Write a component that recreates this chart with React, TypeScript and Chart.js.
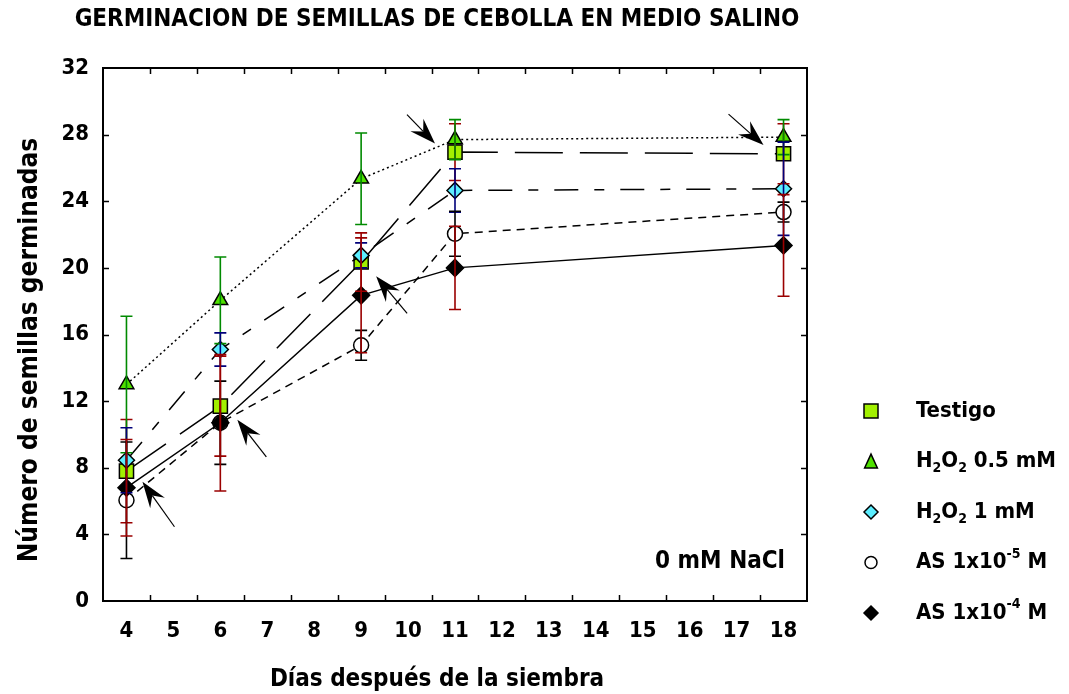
import React, { useEffect, useRef } from 'react';
import { Chart, registerables } from 'chart.js';

Chart.register(...registerables);

// ---------- data ----------
const xLabels = ['4', '5', '6', '7', '8', '9', '10', '11', '12', '13', '14', '15', '16', '17', '18'];
const days = ['4', '6', '9', '11', '18'];

const testigo = [7.8, 11.7, 20.35, 26.95, 26.85];
const testigoErr = [3.1, 3.0, 1.75, 1.7, 1.8];
const h2o2Half = [13.0, 18.05, 25.35, 27.7, 27.85];
const h2o2HalfErr = [4.1, 2.6, 2.75, 1.2, 1.05];
const h2o2One = [8.45, 15.1, 20.75, 24.65, 24.75];
const h2o2OneErr = [1.95, 1.0, 0.75, 1.3, 2.8];
const as5 = [6.05, 10.7, 15.35, 22.05, 23.35];
const as5Err = [3.5, 2.5, 0.9, 1.35, 0.6];
const as4 = [6.8, 10.7, 18.35, 20.0, 21.35];
const as4Err = [2.9, 4.1, 3.45, 2.5, 3.05];

const seriesLabels = ['Testigo', 'H₂O₂ 0.5 mM', 'H₂O₂ 1 mM', 'AS 1x10⁻⁵ M', 'AS 1x10⁻⁴ M'];
const legendRich = [
  [{ t: 'Testigo' }],
  [{ t: 'H' }, { t: '2', s: 'sub' }, { t: 'O' }, { t: '2', s: 'sub' }, { t: ' 0.5 mM' }],
  [{ t: 'H' }, { t: '2', s: 'sub' }, { t: 'O' }, { t: '2', s: 'sub' }, { t: ' 1 mM' }],
  [{ t: 'AS 1x10' }, { t: '-5', s: 'sup' }, { t: ' M' }],
  [{ t: 'AS 1x10' }, { t: '-4', s: 'sup' }, { t: ' M' }],
];

const titleText = 'GERMINACION DE SEMILLAS DE CEBOLLA EN MEDIO SALINO';
const xTitleText = 'Días después de la siembra';
const yTitleText = 'Número de semillas germinadas';
const noteText = '0 mM NaCl';

// arrows: anchored on a data point (series index, point index); tip / tail offsets in px
const arrows = [
  { series: 4, point: 0, tip: [16, -6], tail: [48, 39] },
  { series: 4, point: 1, tip: [17, -3], tail: [46, 34] },
  { series: 4, point: 2, tip: [15, -19], tail: [46, 18] },
  { series: 1, point: 3, tip: [-20, 4], tail: [-48, -25] },
  { series: 1, point: 4, tip: [-20, 8], tail: [-55, -23] },
];

const FONT = "'Liberation Sans Narrow', 'Arial Narrow', 'DejaVu Sans Condensed', sans-serif";

const styles = [
  { shape: 'rect', fill: '#A2F000', dash: [48, 17], radius: 10, err: '#9A0000', order: 3, lr: 7 },
  { shape: 'triangle', fill: '#4FE000', dash: [2, 3], radius: 8.5, err: '#008A00', order: 4, lr: 7.5 },
  { shape: 'rectRot', fill: '#5CEEFF', dash: [24, 16, 10, 16], radius: 8, err: '#00007A', order: 0, lr: 7 },
  { shape: 'circle', fill: '#FFFFFF', dash: [8, 6], radius: 7.5, err: '#000000', order: 2, lr: 6 },
  { shape: 'rectRot', fill: '#000000', dash: [], radius: 8.5, err: '#9A0000', order: 1, lr: 7 },
];
const values = [testigo, h2o2Half, h2o2One, as5, as4];
const errors = [testigoErr, h2o2HalfErr, h2o2OneErr, as5Err, as4Err];

function drawMarker(ctx: CanvasRenderingContext2D, shape: string, x: number, y: number, r: number, fill: string) {
  ctx.save();
  ctx.fillStyle = fill;
  ctx.strokeStyle = '#000';
  ctx.lineWidth = 1.5;
  ctx.beginPath();
  if (shape === 'rect') {
    ctx.rect(x - r, y - r, 2 * r, 2 * r);
  } else if (shape === 'triangle') {
    const h = r * 1.7;
    ctx.moveTo(x, y - h / 2 - 1);
    ctx.lineTo(x + r * 0.85, y + h / 2);
    ctx.lineTo(x - r * 0.85, y + h / 2);
    ctx.closePath();
  } else if (shape === 'rectRot') {
    ctx.moveTo(x, y - r);
    ctx.lineTo(x + r, y);
    ctx.lineTo(x, y + r);
    ctx.lineTo(x - r, y);
    ctx.closePath();
  } else {
    ctx.arc(x, y, r, 0, Math.PI * 2);
  }
  ctx.fill();
  ctx.stroke();
  ctx.restore();
}

function drawArrow(ctx: CanvasRenderingContext2D, tipX: number, tipY: number, tailX: number, tailY: number) {
  const dx = tipX - tailX;
  const dy = tipY - tailY;
  const len = Math.hypot(dx, dy);
  const ux = dx / len;
  const uy = dy / len;
  const nx = -uy;
  const ny = ux;
  const L = 26, W = 9, N = 17;
  const bx = tipX - ux * L, by = tipY - uy * L;
  const kx = tipX - ux * N, ky = tipY - uy * N;
  ctx.save();
  ctx.strokeStyle = '#000';
  ctx.fillStyle = '#000';
  ctx.lineWidth = 1.2;
  ctx.beginPath();
  ctx.moveTo(tailX, tailY);
  ctx.lineTo(kx, ky);
  ctx.stroke();
  ctx.beginPath();
  ctx.moveTo(tipX, tipY);
  ctx.lineTo(bx + nx * W, by + ny * W);
  ctx.lineTo(kx, ky);
  ctx.lineTo(bx - nx * W, by - ny * W);
  ctx.closePath();
  ctx.fill();
  ctx.restore();
}

function drawRich(ctx: CanvasRenderingContext2D, parts: any[], x: number, y: number, size: number) {
  let cx = x;
  for (const p of parts) {
    if (p.s) {
      ctx.font = `bold ${Math.round(size * 0.62)}px ${FONT}`;
      const off = p.s === 'sub' ? size * 0.32 : -size * 0.38;
      ctx.fillText(p.t, cx, y + off);
      cx += ctx.measureText(p.t).width;
    } else {
      ctx.font = `bold ${size}px ${FONT}`;
      ctx.fillText(p.t, cx, y);
      cx += ctx.measureText(p.t).width;
    }
  }
}

const decorPlugin = {
  id: 'decor',
  afterDatasetsDraw(chart: any) {
    const { ctx, scales } = chart;
    const y = scales.y;
    // error bars
    ctx.save();
    ctx.lineWidth = 1.6;
    for (let di = 0; di < values.length; di++) {
      const meta = chart.getDatasetMeta(di);
      ctx.strokeStyle = styles[di].err;
      values[di].forEach((v, i) => {
        const px = meta.data[i].x;
        const yt = y.getPixelForValue(v + errors[di][i]);
        const yb = y.getPixelForValue(v - errors[di][i]);
        ctx.beginPath();
        ctx.moveTo(px, yt);
        ctx.lineTo(px, yb);
        ctx.moveTo(px - 6, yt);
        ctx.lineTo(px + 6, yt);
        ctx.moveTo(px - 6, yb);
        ctx.lineTo(px + 6, yb);
        ctx.stroke();
      });
    }
    ctx.restore();
    // arrows
    for (const a of arrows) {
      const pt = chart.getDatasetMeta(a.series).data[a.point];
      drawArrow(ctx, pt.x + a.tip[0], pt.y + a.tip[1], pt.x + a.tail[0], pt.y + a.tail[1]);
    }
  },
  afterDraw(chart: any) {
    const { ctx, chartArea: ca, scales } = chart;
    const x = scales.x;
    const y = scales.y;
    ctx.save();
    // frame
    ctx.strokeStyle = '#000';
    ctx.lineWidth = 2;
    ctx.strokeRect(ca.left, ca.top, ca.right - ca.left, ca.bottom - ca.top);
    // inward ticks
    ctx.lineWidth = 1.5;
    ctx.beginPath();
    for (let i = 0; i < xLabels.length - 1; i++) {
      const px = Math.round((x.getPixelForValue(i) + x.getPixelForValue(i + 1)) / 2) + 0.5;
      ctx.moveTo(px, ca.bottom);
      ctx.lineTo(px, ca.bottom - 6);
      ctx.moveTo(px, ca.top);
      ctx.lineTo(px, ca.top + 6);
    }
    y.ticks.forEach((t: any) => {
      if (t.value <= y.min || t.value >= y.max) return;
      const py = Math.round(y.getPixelForValue(t.value)) + 0.5;
      ctx.moveTo(ca.left, py);
      ctx.lineTo(ca.left + 6, py);
      ctx.moveTo(ca.right, py);
      ctx.lineTo(ca.right - 6, py);
    });
    ctx.stroke();

    ctx.fillStyle = '#000';
    // axis titles
    ctx.font = `bold 24px ${FONT}`;
    ctx.textAlign = 'center';
    ctx.textBaseline = 'middle';
    ctx.fillText(xTitleText, 437, 680);
    ctx.save();
    ctx.font = `bold 26px ${FONT}`;
    ctx.translate(30, 350);
    ctx.rotate(-Math.PI / 2);
    ctx.fillText(yTitleText, 0, 0);
    ctx.restore();

    // note
    ctx.font = `bold 24px ${FONT}`;
    ctx.textAlign = 'right';
    ctx.fillText(noteText, ca.right - 22, ca.bottom - 39);

    // legend
    ctx.textAlign = 'left';
    for (let i = 0; i < legendRich.length; i++) {
      const ry = ca.bottom - 190 + i * 50.5;
      drawMarker(ctx, styles[i].shape, ca.right + 64, ry, styles[i].lr, styles[i].fill);
      drawRich(ctx, legendRich[i], ca.right + 109, ry, 22);
    }
    ctx.restore();
  },
};

export default function App() {
  const canvasRef = useRef<HTMLCanvasElement | null>(null);

  useEffect(() => {
    const canvas = canvasRef.current;
    if (!canvas) return;
    const datasets = values.map((vals, di) => ({
      label: seriesLabels[di],
      data: days.map((d, i) => ({ x: d, y: vals[i] })),
      borderColor: '#000',
      borderWidth: 1.5,
      borderDash: styles[di].dash,
      pointStyle: styles[di].shape,
      pointRadius: styles[di].radius,
      pointBackgroundColor: styles[di].fill,
      pointBorderColor: '#000',
      pointBorderWidth: 1.5,
      fill: false,
      tension: 0,
      order: styles[di].order,
      clip: false,
    }));

    const chart = new Chart(canvas, {
      type: 'line',
      data: { labels: xLabels, datasets },
      plugins: [decorPlugin],
      options: {
        responsive: false,
        animation: false,
        devicePixelRatio: 1,
        layout: { padding: { left: 0, right: 195, top: 0, bottom: 0 } },
        plugins: {
          legend: { display: false },
          tooltip: { enabled: false },
          title: {
            display: true,
            text: titleText,
            color: '#000',
            font: { family: FONT, size: 24, weight: 'bold' },
            padding: { top: 5.6, bottom: 33.6 },
          },
        },
        scales: {
          x: {
            type: 'category',
            offset: true,
            grid: { display: false, drawTicks: false },
            border: { display: false },
            ticks: {
              color: '#000',
              font: { family: FONT, size: 22, weight: 'bold' },
              padding: 17,
              autoSkip: false,
              maxRotation: 0,
            },
            afterFit: (s: any) => { s.height = 93; },
          },
          y: {
            type: 'linear',
            min: 0,
            max: 32,
            grid: { display: false, drawTicks: false },
            border: { display: false },
            ticks: {
              stepSize: 4,
              color: '#000',
              font: { family: FONT, size: 22, weight: 'bold' },
              padding: 14,
            },
            afterFit: (s: any) => { s.width = 103; },
          },
          y2: {
            type: 'linear',
            position: 'right',
            min: 0,
            max: 32,
            grid: { display: false, drawTicks: false },
            border: { display: false },
            ticks: { display: false },
            afterFit: (s: any) => { s.width = 67; },
          },
        },
      },
    });
    return () => chart.destroy();
  }, []);

  return (
    <div style={{ position: 'absolute', left: 0, top: 0, width: 1069, height: 694, background: '#fff' }}>
      <canvas ref={canvasRef} width={1069} height={694} />
    </div>
  );
}
